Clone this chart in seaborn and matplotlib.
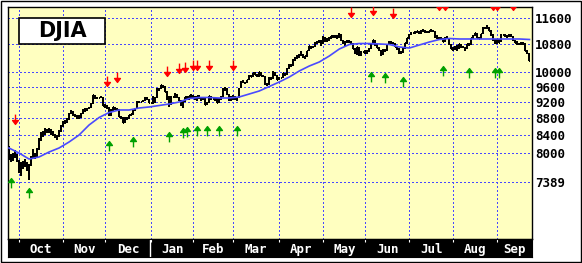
import numpy as np
import matplotlib
matplotlib.use("Agg")
import matplotlib.pyplot as plt
from matplotlib.path import Path
from matplotlib.patches import Rectangle
from matplotlib.ticker import NullLocator
import seaborn as sns

# ---------------- data (DJIA daily, one slot per weekday, Sep 24 1998 .. Sep 23 1999) -------------
close = [
    7873, 7896, 7945, 7966, 7843,
    7632, 7785, 7726, 7742, 7741, 7731, 7900, 8001, 7939, 8089, 8299, 8416, 8466, 8505, 8519, 8534, 8452, 8432, 8366, 8371, 8495, 8592,
    8706, 8706, 8783, 8915, 8975, 8897, 8863, 8823, 8829, 8919, 9011, 8987, 9041, 9056, 9160, 9374, 9301, 9314, 9314, 9333, 9117,
    9133, 9064, 8880, 9016, 9070, 9027, 9009, 8841, 8821, 8695, 8823, 8790, 8875, 8903, 8988, 9044, 9202, 9217, 9217, 9226, 9320, 9274, 9181,
    9181, 9184, 9311, 9544, 9538, 9643, 9620, 9475, 9349, 9120, 9340, 9340, 9356, 9335, 9264, 9120, 9203, 9324, 9282, 9358, 9358,
    9345, 9274, 9366, 9304, 9304, 9291, 9133, 9177, 9363, 9274, 9274, 9298, 9190, 9294, 9340, 9552, 9544, 9400, 9297, 9306,
    9325, 9275, 9297, 9555, 9736, 9727, 9693, 9773, 9897, 9876, 9958, 9930, 9880, 9998, 9903, 9890, 9671, 9666, 9836, 9822, 10006, 9913, 9786,
    9832, 9832, 9963, 9930, 10085, 10198, 10173, 10339, 10395, 10411, 10463, 10493, 10441, 10448, 10581, 10727, 10689, 10719, 10831, 10845, 10878, 10789,
    11014, 10886, 10956, 10946, 11031, 11007, 11027, 11000, 11107, 10913, 10853, 10836, 10887, 10866, 10829, 10655, 10532, 10702, 10466, 10560, 10560,
    10596, 10577, 10663, 10799, 10909, 10765, 10690, 10621, 10490, 10629, 10594, 10784, 10863, 10855, 10815, 10721, 10666, 10534, 10552, 10656, 10815, 10971,
    11066, 11139, 11139, 11135, 11187, 11126, 11193, 11201, 11175, 11148, 11186, 11209, 11187, 10996, 11003, 10970, 10969, 10864, 10979, 10972, 10791, 10655,
    10645, 10678, 10674, 10794, 10714, 10707, 10645, 10789, 10787, 10974, 11046, 11117, 10991, 10963, 11100, 11299, 11283, 11326, 11198, 11090, 10914, 10829,
    10937, 10843, 11079, 11079, 11034, 11036, 11079, 11028, 10910, 10843, 10802, 10801, 10803, 10823, 10598, 10524, 10318,
]
high = [
    8150, 7980, 8000, 8060, 7990,
    7850, 7800, 7830, 7870, 7800, 7760, 7930, 8080, 8010, 8110, 8330, 8480, 8510, 8570, 8560, 8580, 8540, 8490, 8440, 8410, 8520, 8640,
    8740, 8760, 8800, 8930, 9000, 8980, 8910, 8880, 8880, 8930, 9040, 9050, 9060, 9090, 9180, 9390, 9380, 9340, 9314, 9350, 9340,
    9150, 9140, 9070, 9030, 9080, 9080, 9050, 9020, 8870, 8830, 8840, 8840, 8890, 8920, 9000, 9060, 9220, 9240, 9217, 9270, 9330, 9330, 9280,
    9181, 9350, 9330, 9560, 9580, 9650, 9660, 9620, 9480, 9350, 9350, 9340, 9430, 9400, 9340, 9270, 9220, 9340, 9360, 9370, 9400,
    9380, 9360, 9370, 9380, 9330, 9330, 9300, 9200, 9370, 9370, 9274, 9320, 9300, 9310, 9360, 9560, 9590, 9570, 9410, 9370,
    9390, 9360, 9320, 9570, 9750, 9770, 9740, 9790, 9910, 9930, 9970, 9990, 9940, 10010, 10000, 9920, 9890, 9710, 9850, 9850, 10020, 10010, 9920,
    9860, 9832, 9980, 9980, 10100, 10210, 10230, 10350, 10430, 10470, 10510, 10580, 10520, 10460, 10590, 10740, 10740, 10740, 10850, 10900, 10910, 10920,
    11030, 11020, 10970, 11000, 11050, 11080, 11070, 11060, 11130, 11110, 10920, 10880, 10910, 10920, 10880, 10840, 10670, 10720, 10700, 10580, 10560,
    10620, 10620, 10680, 10810, 10920, 10910, 10790, 10710, 10630, 10650, 10660, 10800, 10880, 10900, 10870, 10830, 10730, 10680, 10600, 10670, 10830, 10990,
    11090, 11160, 11139, 11190, 11200, 11190, 11210, 11250, 11220, 11190, 11200, 11250, 11230, 11190, 11060, 11020, 11000, 10980, 11000, 11030, 10980, 10800,
    10720, 10740, 10760, 10810, 10800, 10750, 10720, 10800, 10830, 10990, 11060, 11130, 11120, 11020, 11110, 11310, 11330, 11365, 11330, 11210, 11100, 10940,
    10950, 10940, 11090, 11079, 11100, 11060, 11090, 11100, 11030, 10920, 10880, 10830, 10850, 10850, 10830, 10610, 10530,
]
low = [
    7850, 7800, 7830, 7900, 7800,
    7580, 7510, 7650, 7690, 7620, 7420, 7730, 7900, 7870, 7900, 8060, 8260, 8370, 8420, 8460, 8450, 8420, 8390, 8330, 8290, 8360, 8470,
    8590, 8660, 8680, 8770, 8900, 8870, 8840, 8790, 8790, 8820, 8910, 8960, 8970, 9020, 9050, 9150, 9280, 9280, 9314, 9300, 9100,
    9060, 9040, 8860, 8870, 8990, 9000, 8990, 8830, 8790, 8680, 8690, 8770, 8780, 8860, 8890, 8980, 9040, 9190, 9217, 9200, 9220, 9250, 9170,
    9181, 9160, 9170, 9310, 9480, 9530, 9560, 9460, 9250, 9080, 9120, 9340, 9300, 9320, 9240, 9100, 9060, 9200, 9270, 9270, 9290,
    9300, 9250, 9230, 9290, 9220, 9260, 9120, 9120, 9170, 9260, 9274, 9240, 9170, 9180, 9270, 9340, 9500, 9390, 9240, 9240,
    9270, 9250, 9230, 9300, 9560, 9690, 9670, 9690, 9770, 9850, 9870, 9910, 9860, 9870, 9890, 9850, 9640, 9610, 9660, 9780, 9820, 9900, 9770,
    9770, 9832, 9830, 9900, 9920, 10070, 10140, 10170, 10320, 10370, 10380, 10440, 10400, 10350, 10430, 10580, 10650, 10670, 10710, 10800, 10830, 10740,
    10790, 10860, 10860, 10890, 10940, 10970, 10980, 10960, 10990, 10900, 10800, 10740, 10820, 10840, 10810, 10640, 10500, 10490, 10440, 10450, 10560,
    10500, 10510, 10560, 10650, 10790, 10740, 10670, 10590, 10460, 10480, 10560, 10590, 10770, 10800, 10790, 10700, 10620, 10510, 10500, 10540, 10640, 10800,
    10960, 11060, 11139, 11090, 11120, 11100, 11110, 11170, 11140, 11120, 11130, 11170, 11150, 10980, 10960, 10940, 10930, 10850, 10850, 10940, 10770, 10640,
    10600, 10630, 10600, 10640, 10690, 10680, 10600, 10640, 10750, 10780, 10960, 11030, 10980, 10940, 10950, 11100, 11250, 11250, 11180, 11050, 10900, 10800,
    10800, 10820, 10850, 11079, 11010, 10990, 11000, 11010, 10900, 10830, 10780, 10760, 10780, 10780, 10590, 10500, 10300,
]
# moving average, sampled every 5 weekdays
ma_idx = list(range(0, 261, 5))
ma_val = [8113, 8002, 7871, 7915, 8024, 8113, 8248, 8408, 8643, 8823, 8945, 9007, 9007, 9057, 9082,
          9119, 9157, 9207, 9296, 9322, 9322, 9309, 9309, 9335, 9412, 9490, 9608, 9728, 9862, 10027,
          10165, 10278, 10449, 10652, 10785, 10814, 10814, 10800, 10785, 10711, 10681, 10770, 10859,
          10934, 10964, 10949, 10949, 10949, 10949, 10949, 10949, 10949, 10934]
# signals
sell_idx = [3, 49, 54, 79, 85, 88, 92, 94, 100, 112, 171, 182, 192, 215, 218, 242, 244, 252]
sell_val = [8787, 9755, 9862, 10013, 10096, 10124, 10193, 10207, 10207, 10193, 11777, 11858, 11761,
            12020, 12020, 12020, 12020, 12020]
buy_idx = [1, 10, 50, 62, 80, 87, 89, 94, 99, 105, 114, 181, 188, 197, 217, 230, 243, 245]
buy_val = [7359, 7159, 8158, 8237, 8351, 8455, 8470, 8490, 8513, 8490, 8490, 9876, 9822, 9741,
           10013, 9985, 9958, 9958]
# months
month_names = ['Oct', 'Nov', 'Dec', 'Jan', 'Feb', 'Mar', 'Apr', 'May', 'Jun', 'Jul', 'Aug', 'Sep']
month_start = [5, 27, 48, 71, 92, 112, 135, 157, 178, 200, 222, 244]
year_break = 70.5
ytick_vals = [11600, 10800, 10000, 9600, 9200, 8800, 8400, 8000, 7389]
ytick_labels = ['11600', '10800', '10000', '9600', '9200', '8800', '8400', '8000', '7389']
title = 'DJIA'

# ---------------- figure ----------------
W, H = 582, 263
fig = plt.figure(figsize=(W / 100, H / 100), dpi=100)
fig.patch.set_facecolor('white')
L, R, T, B = 7.5, 532, 7, 239
XMIN, XMAX = -0.75, 261.25
YMIN, YMAX = 6317, 11956
ax = fig.add_axes([L / W, 1 - B / H, (R - L) / W, (B - T) / H])
ax.set_facecolor('#ffffc0')
ax.set_yscale('log')
ax.set_xlim(XMIN, XMAX)
ax.set_ylim(YMIN, YMAX)

GRID = '#4848ff'
ax.vlines(month_start, YMIN, YMAX, colors=GRID, linestyles=(0, (1.4, 2.2)), lw=0.75,
          antialiased=False, zorder=1)
ax.hlines(ytick_vals, XMIN, XMAX, colors=GRID, linestyles=(0, (1.4, 2.2)), lw=0.75,
          antialiased=False, zorder=1)

idx = np.arange(len(close))
ax.vlines(idx, low, high, color='black', lw=1.1, zorder=2, antialiased=False)
ax.hlines(close, idx, idx + 0.5, color='black', lw=1.1, zorder=2, antialiased=False)

sns.lineplot(x=ma_idx, y=ma_val, ax=ax, color='#4a4aff', lw=1.2, zorder=3)

down = Path([(0, 1), (0, -0.2), (-0.6, -0.2), (0, -1), (0.6, -0.2), (0, -0.2)],
            [Path.MOVETO, Path.LINETO, Path.MOVETO, Path.LINETO, Path.LINETO, Path.CLOSEPOLY])
up = Path([(0, -1), (0, 0.2), (-0.6, 0.2), (0, 1), (0.6, 0.2), (0, 0.2)],
          [Path.MOVETO, Path.LINETO, Path.MOVETO, Path.LINETO, Path.LINETO, Path.CLOSEPOLY])
sns.scatterplot(x=sell_idx, y=sell_val, ax=ax, marker=down, s=50, color='#ff0000',
                edgecolor='#ff0000', linewidth=1.0, zorder=4)
sns.scatterplot(x=buy_idx, y=buy_val, ax=ax, marker=up, s=50, color='#00a000',
                edgecolor='#00a000', linewidth=1.0, zorder=4)

ax.set_xticks([])
ax.yaxis.tick_right()
ax.set_yticks(ytick_vals)
ax.set_yticklabels(ytick_labels)
ax.yaxis.set_minor_locator(NullLocator())
ax.xaxis.set_minor_locator(NullLocator())
ax.tick_params(axis='both', length=0)
ax.tick_params(axis='y', pad=2.2, labelsize=9)
for lab in ax.get_yticklabels():
    lab.set_fontfamily('DejaVu Sans Mono')
    lab.set_fontweight('bold')
ax.set_xlabel('')
ax.set_ylabel('')
ax.grid(False)
for sp in ax.spines.values():
    sp.set_color('black')
    sp.set_linewidth(1.0)

# month strip
SB = 256.5
ax_s = fig.add_axes([L / W, 1 - SB / H, (R - L) / W, (SB - B) / H])
ax_s.set_facecolor('black')
ax_s.set_xlim(XMIN, XMAX)
ax_s.set_ylim(0, 1)
ax_s.set_xticks([])
ax_s.set_yticks([])
bounds = month_start + [XMAX]
for i, name in enumerate(month_names):
    mid = (bounds[i] + bounds[i + 1]) / 2
    ax_s.text(mid, 0.42, name, color='white', ha='center', va='center', fontsize=9,
              fontweight='bold', fontfamily='DejaVu Sans Mono')
ax_s.vlines(month_start, 0.85, 1.0, color='white', lw=0.8)
ax_s.vlines([year_break], 0.0, 1.0, color='white', lw=1.0)

# title box
fig.add_artist(Rectangle((19 / W, 1 - 44 / H), 86 / W, 26 / H, transform=fig.transFigure,
                         facecolor='white', edgecolor='black', lw=1.2, zorder=10))
fig.text(62 / W, 1 - 31 / H, title, ha='center', va='center', fontsize=15, fontweight='bold',
         fontfamily='DejaVu Sans', zorder=11)

# outer frame
fig.add_artist(Rectangle((0.8 / W, 1.5 / H), (W - 1.6) / W, (H - 2.3) / H, transform=fig.transFigure,
                         fill=False, edgecolor='black', lw=1.0))

fig.savefig('out.png', dpi=100)
